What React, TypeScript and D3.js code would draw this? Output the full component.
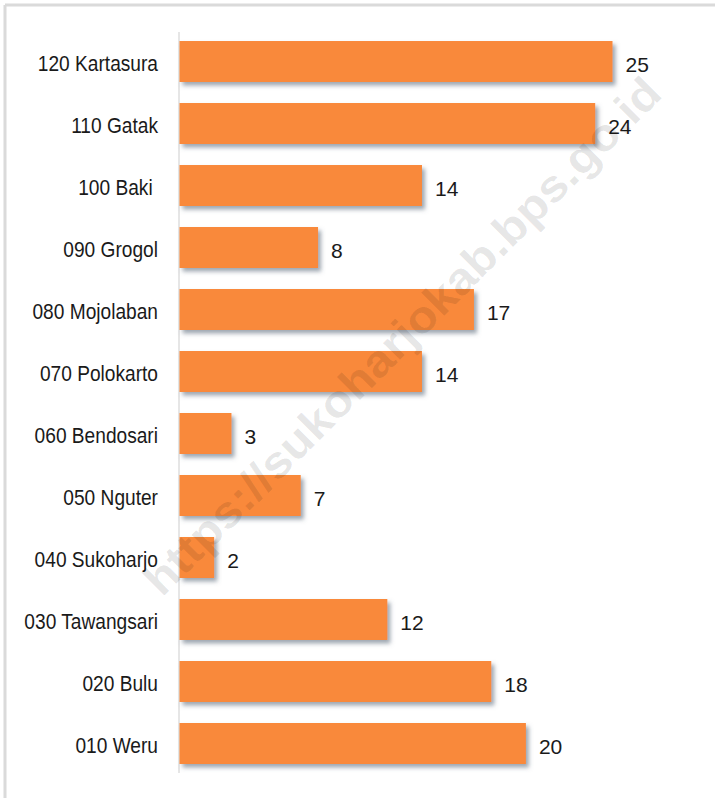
import React from "react";
import * as d3 from "d3";

// kecamatan labels, top to bottom as drawn
const districts = [
  "120 Kartasura",
  "110 Gatak",
  "100 Baki ",
  "090 Grogol",
  "080 Mojolaban",
  "070 Polokarto",
  "060 Bendosari",
  "050 Nguter",
  "040 Sukoharjo",
  "030 Tawangsari",
  "020 Bulu",
  "010 Weru",
];
const counts = [25, 24, 14, 8, 17, 14, 3, 7, 2, 12, 18, 20];
const watermark = "https://sukoharjokab.bps.go.id";

const width = 715;
const height = 798;
const margin = { left: 179, right: 103, top: 20, bottom: 13 };
const barColor = "#f9893a";
const font = "'Liberation Sans', Arial, sans-serif";

export default function App() {
  const x = d3
    .scaleLinear()
    .domain([0, d3.max(counts) as number])
    .range([margin.left, width - margin.right]);

  const y = d3
    .scaleBand<string>()
    .domain(districts)
    .range([margin.top, height - margin.bottom])
    .padding(0.339);

  const rows = districts.map((d, i) => ({ name: d, value: counts[i] }));

  return (
    <svg
      width={width}
      height={height}
      style={{ position: "absolute", left: 0, top: 0, background: "#fff" }}
    >
      <defs>
        <filter id="barShadow" x="-10%" y="-30%" width="130%" height="180%">
          <feDropShadow dx="3" dy="3.5" stdDeviation="2.2" floodColor="#4f6070" floodOpacity="0.55" />
        </filter>
      </defs>

      {/* frame */}
      <line x1={5} y1={5} x2={width} y2={5} stroke="#dadada" strokeWidth={3} />
      <line x1={5} y1={5} x2={5} y2={height} stroke="#dadada" strokeWidth={3} />

      {/* category axis */}
      <line
        x1={x(0)}
        x2={x(0)}
        y1={32}
        y2={773}
        stroke="#d6d6d6"
        strokeWidth={1.2}
      />

      {rows.map((r) => {
        const y0 = y(r.name) as number;
        const cy = y0 + y.bandwidth() / 2;
        return (
          <g key={r.name}>
            <rect
              x={x(0) + 0.5}
              y={y0}
              width={x(r.value) - x(0)}
              height={y.bandwidth()}
              fill={barColor}
              filter="url(#barShadow)"
            />
            {/* condensed label: squeeze horizontally like the original narrow font */}
            <text
              transform={`translate(158,${cy + 1.5}) scale(0.87,1)`}
              textAnchor="end"
              dominantBaseline="central"
              fontFamily={font}
              fontSize={22}
              fill="#1a1a1a"
              style={{ whiteSpace: "pre" }}
            >
              {r.name}
            </text>
            <text
              x={x(r.value) + 13.5}
              y={cy + 3}
              dominantBaseline="central"
              fontFamily={font}
              fontSize={21}
              fill="#1a1a1a"
            >
              {r.value}
            </text>
          </g>
        );
      })}

      {/* BPS watermark */}
      <text
        transform="translate(402,336) rotate(-45)"
        textAnchor="middle"
        dominantBaseline="central"
        fontFamily={font}
        fontWeight="bold"
        fontSize={45}
        textLength={710}
        lengthAdjust="spacingAndGlyphs"
        fill="#000"
        fillOpacity={0.1}
      >
        {watermark}
      </text>
    </svg>
  );
}
